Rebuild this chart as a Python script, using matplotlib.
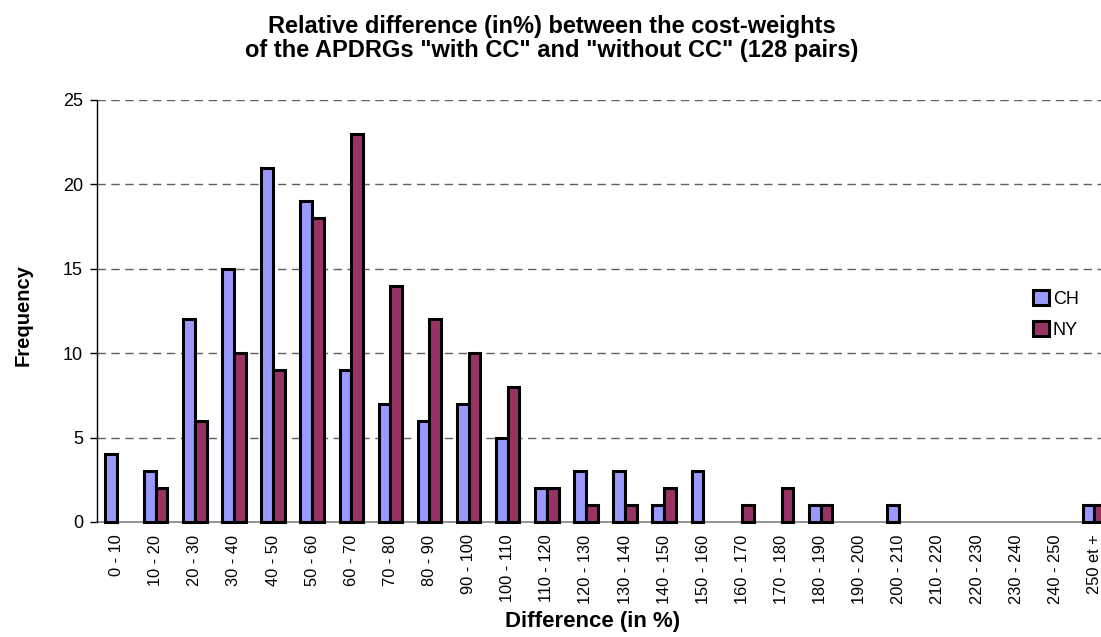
import matplotlib
matplotlib.use("Agg")
import matplotlib.pyplot as plt
import numpy as np

categories = ["0 - 10", "10 - 20", "20 - 30", "30 - 40", "40 - 50", "50 - 60", "60 - 70",
              "70 - 80", "80 - 90", "90 - 100", "100 - 110", "110 - 120", "120 - 130",
              "130 - 140", "140 - 150", "150 - 160", "160 - 170", "170 - 180", "180 - 190",
              "190 - 200", "200 - 210", "210 - 220", "220 - 230", "230 - 240", "240 - 250",
              "250 et +"]
ch_values = [4, 3, 12, 15, 21, 19, 9, 7, 6, 7, 5, 2, 3, 3, 1, 3, 0, 0, 1, 0, 1, 0, 0, 0, 0, 1]
ny_values = [0, 2, 6, 10, 9, 18, 23, 14, 12, 10, 8, 2, 1, 1, 2, 0, 1, 2, 1, 0, 0, 0, 0, 0, 0, 1]
series_names = ["CH", "NY"]
yticks = [0, 5, 10, 15, 20, 25]

plt.rcParams['font.family'] = ['Liberation Sans', 'DejaVu Sans']

W, H = 1101, 637
fig = plt.figure(figsize=(W / 100, H / 100), dpi=100)
ax = fig.add_axes([97 / W, 1 - 522 / H, (1114 - 97) / W, (522 - 100) / H])

x = np.arange(len(categories))
bw = 0.3
lw = 2.2
ch = np.array(ch_values, dtype=float)
ny = np.array(ny_values, dtype=float)
m_ch = ch > 0
m_ny = ny > 0
ax.bar(x[m_ch] - bw / 2, ch[m_ch], width=bw, color="#9999FF", edgecolor="black",
       linewidth=lw, label=series_names[0], zorder=3, clip_on=False)
ax.bar(x[m_ny] + bw / 2, ny[m_ny], width=bw, color="#993366", edgecolor="black",
       linewidth=lw, label=series_names[1], zorder=3, clip_on=False)

ax.set_xlim(-0.5, len(categories) - 0.5)
ax.set_ylim(0, 25)
ax.set_yticks(yticks)
ax.set_xticks(x)
ax.set_xticklabels(categories, rotation=90, fontsize=11.8)
ax.tick_params(axis='x', length=0, pad=9)
ax.tick_params(axis='y', length=5, width=1, direction='out', pad=5, labelsize=13, color='black')

for v in yticks[1:]:
    ax.axhline(v, color="#606060", linewidth=1, linestyle=(0, (6, 4)), zorder=1)

for s in ["top", "right"]:
    ax.spines[s].set_visible(False)
ax.spines["left"].set_color("black")
ax.spines["left"].set_linewidth(1)
ax.spines["bottom"].set_color("#808080")
ax.spines["bottom"].set_linewidth(1.2)
ax.spines["bottom"].set_zorder(2)

fig.text(552 / W, 1 - 33 / H, "Relative difference (in%) between the cost-weights",
         ha="center", va="baseline", fontsize=17, fontweight="bold")
fig.text(552 / W, 1 - 57 / H, 'of the APDRGs "with CC" and "without CC" (128 pairs)',
         ha="center", va="baseline", fontsize=17, fontweight="bold")
fig.text(23 / W, 1 - 315 / H, "Frequency", rotation=90, ha="center", va="center",
         fontsize=14.5, fontweight="bold")
fig.text(593 / W, 1 - 621 / H, "Difference (in %)", ha="center", va="center",
         fontsize=16, fontweight="bold")

leg = ax.legend(loc="upper left", bbox_to_anchor=(1033 / W, 1 - 290 / H),
                bbox_transform=fig.transFigure, frameon=False, fontsize=13,
                handlelength=0.9, handleheight=0.9, handletextpad=0.2,
                labelspacing=0.75, borderpad=0, borderaxespad=0)

fig.savefig("out.png", dpi=100)
